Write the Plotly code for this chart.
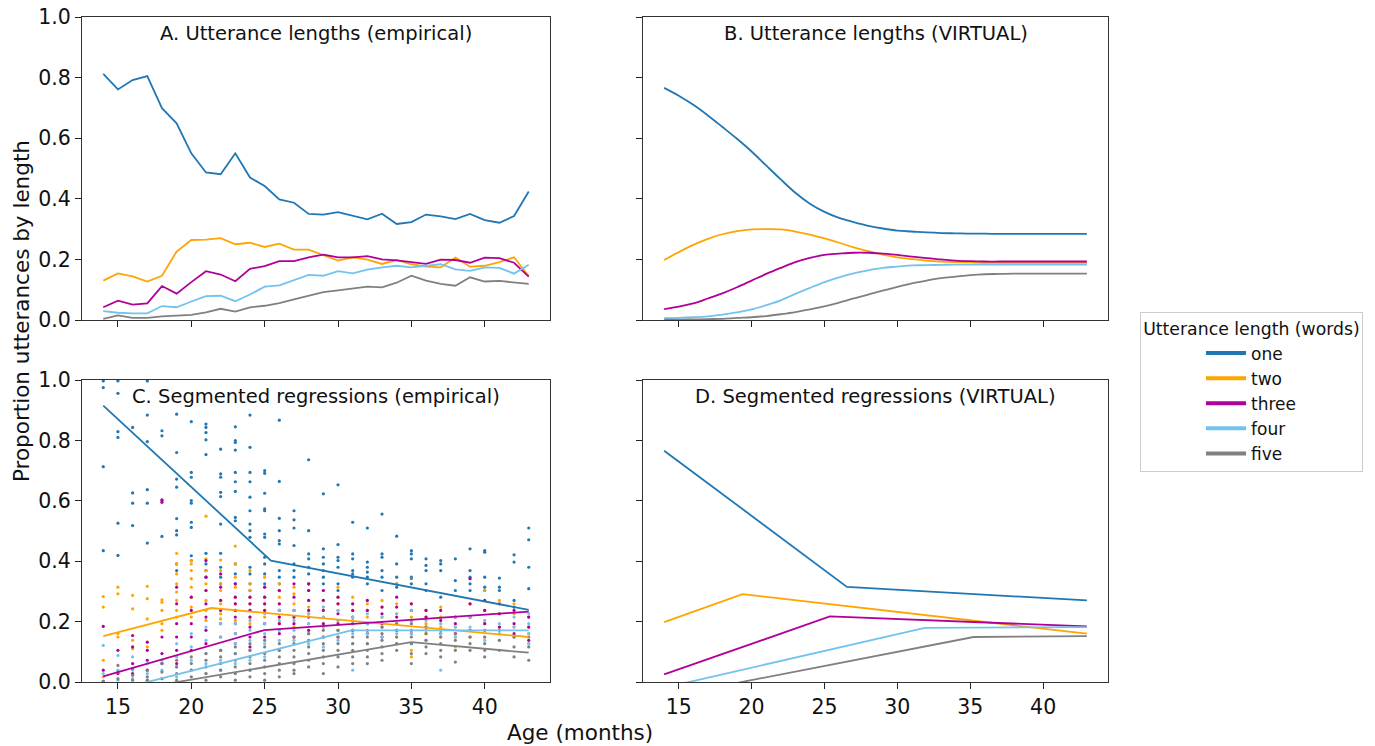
import plotly.graph_objects as go

FONT = "DejaVu Sans"
categories = ["one", "two", "three", "four", "five"]
colors = {"one": "#1f77b4", "two": "#ffa500", "three": "#b0009a", "four": "#74c2ee", "five": "#808080"}

months = list(range(14, 44))

# Panel A: empirical proportions by month
emp_one = [0.812, 0.761, 0.792, 0.805, 0.699, 0.649, 0.550, 0.487, 0.481, 0.550,
           0.470, 0.442, 0.398, 0.387, 0.350, 0.348, 0.356, 0.343, 0.332, 0.351,
           0.317, 0.323, 0.348, 0.342, 0.333, 0.350, 0.330, 0.321, 0.343, 0.424]
emp_two = [0.130, 0.154, 0.144, 0.127, 0.146, 0.226, 0.264, 0.265, 0.270, 0.250,
           0.255, 0.241, 0.252, 0.232, 0.232, 0.215, 0.196, 0.207, 0.199, 0.185,
           0.198, 0.184, 0.176, 0.174, 0.206, 0.176, 0.179, 0.191, 0.207, 0.145]
emp_three = [0.042, 0.064, 0.051, 0.055, 0.112, 0.087, 0.125, 0.161, 0.150, 0.128,
             0.169, 0.178, 0.194, 0.194, 0.207, 0.216, 0.207, 0.207, 0.211, 0.200,
             0.197, 0.190, 0.185, 0.199, 0.198, 0.189, 0.206, 0.204, 0.189, 0.143]
emp_four = [0.029, 0.024, 0.022, 0.022, 0.046, 0.042, 0.061, 0.079, 0.080, 0.062,
            0.084, 0.110, 0.114, 0.132, 0.149, 0.146, 0.161, 0.154, 0.166, 0.174,
            0.179, 0.174, 0.180, 0.184, 0.167, 0.162, 0.174, 0.172, 0.153, 0.182]
emp_five = [0.004, 0.015, 0.007, 0.007, 0.012, 0.014, 0.017, 0.025, 0.037, 0.028,
            0.042, 0.047, 0.056, 0.068, 0.080, 0.092, 0.098, 0.103, 0.110, 0.108,
            0.123, 0.146, 0.130, 0.119, 0.113, 0.141, 0.127, 0.129, 0.124, 0.119]

# Panel B: virtual proportions by month
vir_one = [0.766, 0.740, 0.710, 0.675, 0.637, 0.598, 0.556, 0.510, 0.464, 0.420,
           0.384, 0.357, 0.337, 0.323, 0.311, 0.302, 0.295, 0.292, 0.289, 0.287,
           0.286, 0.285, 0.285, 0.284, 0.284, 0.284, 0.284, 0.284, 0.284, 0.284]
vir_two = [0.198, 0.224, 0.248, 0.268, 0.283, 0.293, 0.299, 0.300, 0.299, 0.292,
           0.282, 0.269, 0.255, 0.240, 0.227, 0.216, 0.207, 0.201, 0.196, 0.193,
           0.191, 0.190, 0.189, 0.189, 0.189, 0.189, 0.189, 0.189, 0.189, 0.189]
vir_three = [0.036, 0.044, 0.055, 0.071, 0.088, 0.108, 0.130, 0.152, 0.172, 0.191,
             0.205, 0.215, 0.219, 0.222, 0.222, 0.219, 0.215, 0.209, 0.204, 0.200,
             0.196, 0.194, 0.193, 0.193, 0.193, 0.193, 0.193, 0.193, 0.193, 0.193]
vir_four = [0.006, 0.007, 0.009, 0.012, 0.018, 0.025, 0.035, 0.049, 0.065, 0.086,
            0.106, 0.125, 0.141, 0.154, 0.164, 0.172, 0.176, 0.180, 0.181, 0.182,
            0.183, 0.183, 0.183, 0.183, 0.183, 0.183, 0.183, 0.183, 0.183, 0.183]
vir_five = [0.001, 0.001, 0.002, 0.003, 0.004, 0.007, 0.009, 0.013, 0.019, 0.026,
            0.035, 0.045, 0.057, 0.071, 0.084, 0.097, 0.109, 0.121, 0.130, 0.138,
            0.143, 0.148, 0.151, 0.152, 0.153, 0.153, 0.153, 0.153, 0.153, 0.153]

# Panel C: segmented regressions (empirical), breakpoints
segC_one_x, segC_one_y = [14, 25.43, 43], [0.915, 0.402, 0.239]
segC_two_x, segC_two_y = [14, 21.36, 43], [0.152, 0.245, 0.149]
segC_three_x, segC_three_y = [14, 24.97, 43], [0.019, 0.172, 0.233]
segC_four_x, segC_four_y = [14, 30.9, 43], [-0.037, 0.171, 0.171]
segC_five_x, segC_five_y = [14, 35.0, 43], [-0.042, 0.132, 0.097]

# Panel D: segmented regressions (virtual), breakpoints
segD_one_x, segD_one_y = [14, 26.54, 43], [0.766, 0.315, 0.270]
segD_two_x, segD_two_y = [14, 19.38, 43], [0.198, 0.291, 0.160]
segD_three_x, segD_three_y = [14, 25.37, 43], [0.025, 0.217, 0.184]
segD_four_x, segD_four_y = [14, 31.88, 43], [-0.019, 0.179, 0.182]
segD_five_x, segD_five_y = [14, 35.23, 43], [-0.050, 0.149, 0.152]

# Panel C: per-child empirical proportions (dots), by month
dots_one = {
    14: [0.997, 0.975, 0.713, 0.435], 15: [0.997, 0.956, 0.829, 0.810, 0.526, 0.419],
    16: [0.843, 0.626, 0.592, 0.518], 17: [0.997, 0.884, 0.796, 0.637, 0.592, 0.460],
    18: [0.832, 0.815, 0.601, 0.482],
    19: [0.887, 0.760, 0.672, 0.645, 0.541, 0.501, 0.487, 0.391, 0.369],
    20: [0.862, 0.694, 0.678, 0.601, 0.592, 0.529, 0.512, 0.418, 0.402],
    21: [0.854, 0.843, 0.826, 0.802, 0.753, 0.426, 0.391, 0.369, 0.347],
    22: [0.771, 0.689, 0.678, 0.628, 0.614, 0.523, 0.426, 0.380, 0.347, 0.325],
    23: [0.845, 0.799, 0.793, 0.768, 0.694, 0.663, 0.631, 0.545, 0.534, 0.391, 0.358, 0.325],
    24: [0.884, 0.777, 0.694, 0.663, 0.612, 0.567, 0.523, 0.501, 0.479, 0.380, 0.358, 0.325, 0.303],
    25: [0.700, 0.691, 0.625, 0.573, 0.567, 0.490, 0.479, 0.413, 0.391, 0.358, 0.325],
    26: [0.867, 0.664, 0.542, 0.501, 0.468, 0.457, 0.369, 0.347, 0.325, 0.303],
    27: [0.567, 0.537, 0.510, 0.452, 0.391, 0.369, 0.347],
    28: [0.736, 0.501, 0.424, 0.408, 0.380, 0.358, 0.325, 0.303],
    29: [0.623, 0.441, 0.413, 0.391, 0.369, 0.347, 0.325],
    30: [0.653, 0.455, 0.413, 0.402, 0.380, 0.325, 0.303],
    31: [0.529, 0.424, 0.408, 0.369, 0.358, 0.347],
    32: [0.510, 0.397, 0.380, 0.364, 0.347, 0.325],
    33: [0.556, 0.424, 0.413, 0.369, 0.347, 0.303],
    34: [0.483, 0.391, 0.347, 0.325, 0.314], 35: [0.435, 0.424, 0.408, 0.347, 0.325],
    36: [0.408, 0.386, 0.369, 0.325, 0.303], 37: [0.402, 0.391, 0.369, 0.281],
    38: [0.408, 0.336, 0.303], 39: [0.441, 0.369, 0.347, 0.325, 0.303],
    40: [0.435, 0.430, 0.347, 0.314, 0.303], 41: [0.344, 0.314, 0.303],
    42: [0.421, 0.397, 0.270, 0.248], 43: [0.510, 0.471, 0.380, 0.309],
}
dots_two = {
    14: [0.283, 0.248, 0.072, 0.017], 15: [0.314, 0.292, 0.160, 0.149],
    16: [0.287, 0.242, 0.138, 0.110], 17: [0.317, 0.276, 0.209, 0.116],
    18: [0.272, 0.264, 0.237, 0.193, 0.171],
    19: [0.426, 0.391, 0.358, 0.325, 0.298, 0.270, 0.237, 0.215],
    20: [0.402, 0.391, 0.369, 0.342, 0.314, 0.281, 0.248, 0.215],
    21: [0.549, 0.408, 0.369, 0.325, 0.303, 0.270, 0.237, 0.204],
    22: [0.404, 0.369, 0.325, 0.303, 0.270, 0.259, 0.226, 0.209],
    23: [0.450, 0.391, 0.347, 0.314, 0.281, 0.259, 0.237, 0.204],
    24: [0.369, 0.325, 0.303, 0.281, 0.259, 0.237, 0.215, 0.193],
    25: [0.347, 0.314, 0.281, 0.259, 0.237, 0.215, 0.193],
    26: [0.325, 0.303, 0.281, 0.259, 0.237, 0.215, 0.193],
    27: [0.314, 0.292, 0.259, 0.237, 0.215, 0.182],
    28: [0.325, 0.303, 0.270, 0.248, 0.226, 0.193],
    29: [0.303, 0.270, 0.248, 0.215, 0.182],
    30: [0.314, 0.281, 0.259, 0.237, 0.204, 0.171],
    31: [0.281, 0.259, 0.237, 0.204, 0.171], 32: [0.259, 0.237, 0.215, 0.193, 0.160],
    33: [0.270, 0.248, 0.215, 0.182], 34: [0.325, 0.259, 0.226, 0.193, 0.149],
    35: [0.259, 0.237, 0.215, 0.171, 0.105, 0.083], 36: [0.237, 0.215, 0.193, 0.160],
    37: [0.248, 0.215, 0.182, 0.149], 38: [0.215, 0.182, 0.149, 0.116],
    39: [0.259, 0.215, 0.171, 0.149], 40: [0.303, 0.237, 0.193, 0.149],
    41: [0.270, 0.226, 0.182, 0.138], 42: [0.259, 0.226, 0.182, 0.149],
    43: [0.215, 0.182, 0.160, 0.127],
}
dots_three = {
    14: [0.184, 0.039, 0.002], 15: [0.105, 0.028], 16: [0.154, 0.116, 0.061, 0.028],
    17: [0.132, 0.105, 0.072, 0.039], 18: [0.603, 0.595, 0.149, 0.094, 0.061],
    19: [0.314, 0.259, 0.193, 0.149, 0.105, 0.061], 20: [0.281, 0.237, 0.193, 0.149, 0.105],
    21: [0.402, 0.347, 0.303, 0.259, 0.215, 0.171, 0.127],
    22: [0.358, 0.314, 0.270, 0.237, 0.193, 0.149, 0.105],
    23: [0.325, 0.281, 0.259, 0.237, 0.215, 0.193, 0.160, 0.127],
    24: [0.281, 0.259, 0.237, 0.215, 0.182, 0.149, 0.116],
    25: [0.314, 0.281, 0.259, 0.237, 0.193, 0.149],
    26: [0.303, 0.259, 0.237, 0.215, 0.193, 0.160],
    27: [0.325, 0.281, 0.237, 0.215, 0.193, 0.149],
    28: [0.325, 0.303, 0.270, 0.237, 0.215, 0.171],
    29: [0.303, 0.270, 0.237, 0.193, 0.149], 30: [0.281, 0.259, 0.226, 0.193, 0.149],
    31: [0.259, 0.237, 0.215, 0.171], 32: [0.270, 0.237, 0.193, 0.160],
    33: [0.248, 0.226, 0.193, 0.149], 34: [0.281, 0.248, 0.215, 0.171],
    35: [0.259, 0.237, 0.204, 0.160], 36: [0.237, 0.215, 0.182],
    37: [0.237, 0.204, 0.160], 38: [0.215, 0.193, 0.160], 39: [0.342, 0.259, 0.215, 0.171],
    40: [0.270, 0.237, 0.193], 41: [0.259, 0.226, 0.182], 42: [0.237, 0.193, 0.160],
    43: [0.215, 0.182, 0.138],
}
dots_four = {
    14: [0.121, 0.028], 15: [0.088, 0.039, 0.006], 16: [0.083, 0.039, 0.011],
    17: [0.061, 0.028, 0.006], 18: [0.072, 0.039, 0.011], 19: [0.127, 0.083, 0.050, 0.017],
    20: [0.160, 0.116, 0.072, 0.039], 21: [0.182, 0.138, 0.094, 0.061, 0.028],
    22: [0.193, 0.149, 0.105, 0.072, 0.039], 23: [0.193, 0.160, 0.127, 0.094, 0.061],
    24: [0.204, 0.171, 0.138, 0.105, 0.072, 0.039], 25: [0.226, 0.193, 0.160, 0.127, 0.083],
    26: [0.237, 0.204, 0.171, 0.138, 0.105], 27: [0.237, 0.204, 0.171, 0.138],
    28: [0.226, 0.193, 0.160, 0.127], 29: [0.248, 0.215, 0.182, 0.149, 0.116],
    30: [0.237, 0.204, 0.171, 0.138], 31: [0.215, 0.193, 0.160, 0.127, 0.039],
    32: [0.226, 0.193, 0.160, 0.127], 33: [0.215, 0.182, 0.149],
    34: [0.226, 0.193, 0.160, 0.127], 35: [0.237, 0.204, 0.160, 0.127],
    36: [0.204, 0.171, 0.138], 37: [0.193, 0.160, 0.039], 38: [0.215, 0.182, 0.149],
    39: [0.215, 0.182, 0.149], 40: [0.204, 0.171, 0.138], 41: [0.193, 0.160],
    42: [0.215, 0.182, 0.149], 43: [0.226, 0.193, 0.160, 0.127],
}
dots_five = {
    14: [0.002], 15: [0.055, 0.033, 0.011], 16: [0.044, 0.022, 0.006],
    17: [0.039, 0.017, 0.006], 18: [0.061, 0.033, 0.011], 19: [0.072, 0.050, 0.028, 0.006],
    20: [0.083, 0.061, 0.039, 0.017], 21: [0.094, 0.072, 0.050, 0.028, 0.006],
    22: [0.105, 0.083, 0.061, 0.039, 0.017], 23: [0.116, 0.094, 0.072, 0.050, 0.028, 0.006],
    24: [0.127, 0.105, 0.083, 0.061, 0.039, 0.017],
    25: [0.138, 0.116, 0.094, 0.072, 0.050, 0.028, 0.006],
    26: [0.127, 0.105, 0.083, 0.061, 0.039, 0.017],
    27: [0.149, 0.127, 0.105, 0.083, 0.061, 0.039, 0.028],
    28: [0.160, 0.138, 0.116, 0.094, 0.072, 0.050],
    29: [0.171, 0.149, 0.127, 0.105, 0.083, 0.061, 0.028],
    30: [0.171, 0.149, 0.127, 0.105, 0.083, 0.050],
    31: [0.193, 0.171, 0.149, 0.127, 0.105, 0.083, 0.061],
    32: [0.171, 0.149, 0.127, 0.105, 0.083, 0.061],
    33: [0.182, 0.160, 0.138, 0.116, 0.094, 0.072],
    34: [0.193, 0.171, 0.149, 0.127, 0.105],
    35: [0.342, 0.193, 0.171, 0.149, 0.127, 0.094, 0.061],
    36: [0.182, 0.160, 0.138, 0.116, 0.094], 37: [0.171, 0.149, 0.127, 0.105, 0.083],
    38: [0.160, 0.138, 0.105, 0.066], 39: [0.171, 0.149, 0.127, 0.105],
    40: [0.171, 0.149, 0.127, 0.105, 0.083], 41: [0.171, 0.138, 0.105],
    42: [0.149, 0.116, 0.083], 43: [0.149, 0.116, 0.072],
}

x_ticks = [15, 20, 25, 30, 35, 40]
y_ticks = [0.0, 0.2, 0.4, 0.6, 0.8, 1.0]
panel_titles = ["A. Utterance lengths (empirical)", "B. Utterance lengths (VIRTUAL)",
                "C. Segmented regressions (empirical)", "D. Segmented regressions (VIRTUAL)"]
legend_title = "Utterance length (words)"
x_label = "Age (months)"
y_label = "Proportion utterances by length"

emp = dict(zip(categories, [emp_one, emp_two, emp_three, emp_four, emp_five]))
vir = dict(zip(categories, [vir_one, vir_two, vir_three, vir_four, vir_five]))
segC = dict(zip(categories, [(segC_one_x, segC_one_y), (segC_two_x, segC_two_y),
                             (segC_three_x, segC_three_y), (segC_four_x, segC_four_y),
                             (segC_five_x, segC_five_y)]))
segD = dict(zip(categories, [(segD_one_x, segD_one_y), (segD_two_x, segD_two_y),
                             (segD_three_x, segD_three_y), (segD_four_x, segD_four_y),
                             (segD_five_x, segD_five_y)]))
dots = dict(zip(categories, [dots_one, dots_two, dots_three, dots_four, dots_five]))

fig = go.Figure()
LW = 1.8

for c in categories:
    fig.add_trace(go.Scatter(x=months, y=emp[c], mode="lines", line=dict(color=colors[c], width=LW),
                             showlegend=False, xaxis="x", yaxis="y"))
for c in categories:
    fig.add_trace(go.Scatter(x=months, y=vir[c], mode="lines",
                             line=dict(color=colors[c], width=LW, shape="spline", smoothing=1.0),
                             showlegend=False, xaxis="x2", yaxis="y2"))
for c in categories:
    xs, ys = [], []
    for m, vals in dots[c].items():
        xs += [m] * len(vals)
        ys += vals
    fig.add_trace(go.Scatter(x=xs, y=ys, mode="markers", marker=dict(color=colors[c], size=3.2),
                             showlegend=False, xaxis="x3", yaxis="y3", cliponaxis=True))
for c in categories:
    fig.add_trace(go.Scatter(x=segC[c][0], y=segC[c][1], mode="lines", line=dict(color=colors[c], width=LW),
                             showlegend=False, xaxis="x3", yaxis="y3"))
for c in categories:
    fig.add_trace(go.Scatter(x=segD[c][0], y=segD[c][1], mode="lines", line=dict(color=colors[c], width=LW),
                             showlegend=False, xaxis="x4", yaxis="y4"))
# legend entries
for c in categories:
    fig.add_trace(go.Scatter(x=[None], y=[None], mode="lines", line=dict(color=colors[c], width=4),
                             name=c, showlegend=True, xaxis="x", yaxis="y"))

W, H = 1375, 746
xdomL = [82 / W, 550 / W]
xdomR = [643 / W, 1108 / W]
ydomT = [1 - 320 / H, 1 - 17 / H]
ydomB = [1 - 682 / H, 1 - 380 / H]

def xa(domain, anchor, labels):
    return dict(domain=domain, anchor=anchor, range=[12.55, 44.45], tickvals=x_ticks,
                showticklabels=labels, ticks="outside", ticklen=6, tickwidth=1.2, tickcolor="#222",
                showline=True, linecolor="#333", linewidth=1.2, mirror=True, showgrid=False,
                zeroline=False, automargin=False, tickfont=dict(family=FONT, size=20.5, color="#111"))

def ya(domain, anchor, labels):
    return dict(domain=domain, anchor=anchor, range=[0, 1], tickvals=y_ticks, tickformat=".1f",
                showticklabels=labels, ticks="outside", ticklen=6, tickwidth=1.2, tickcolor="#222",
                showline=True, linecolor="#333", linewidth=1.2, mirror=True, showgrid=False,
                zeroline=False, automargin=False, tickfont=dict(family=FONT, size=20.5, color="#111"))

annotations = []
for i, t in enumerate(panel_titles):
    sfx = "" if i == 0 else str(i + 1)
    annotations.append(dict(text=t, x=0.5, xref=f"x{sfx} domain", y=1, yref=f"y{sfx} domain",
                            xanchor="center", yanchor="top", yshift=-3, showarrow=False,
                            font=dict(family=FONT, size=19.5, color="#111")))
annotations.append(dict(text=x_label, x=580 / W, y=1 - 732 / H, xref="paper", yref="paper",
                        xanchor="center", yanchor="middle", showarrow=False,
                        font=dict(family=FONT, size=21.5, color="#111")))
annotations.append(dict(text=y_label, x=22 / W, y=1 - 311 / H, xref="paper", yref="paper",
                        xanchor="center", yanchor="middle", textangle=-90, showarrow=False,
                        font=dict(family=FONT, size=21.5, color="#111")))

fig.update_layout(
    width=W, height=H, template="none",
    margin=dict(l=0, r=0, t=0, b=0, autoexpand=False),
    paper_bgcolor="white", plot_bgcolor="white",
    xaxis=xa(xdomL, "y", False), yaxis=ya(ydomT, "x", True),
    xaxis2=xa(xdomR, "y2", False), yaxis2=ya(ydomT, "x2", False),
    xaxis3=xa(xdomL, "y3", True), yaxis3=ya(ydomB, "x3", True),
    xaxis4=xa(xdomR, "y4", True), yaxis4=ya(ydomB, "x4", False),
    annotations=annotations,
    legend=dict(x=1140 / W, y=1 - 312 / H, xanchor="left", yanchor="top",
                bordercolor="#cccccc", borderwidth=1, bgcolor="white",
                font=dict(family=FONT, size=17, color="#111"), itemwidth=40,
                indentation=60,
                title=dict(text=legend_title, side="top center", font=dict(family=FONT, size=17.3, color="#111"))),
    font=dict(family=FONT),
)

fig.write_html("out.html")
